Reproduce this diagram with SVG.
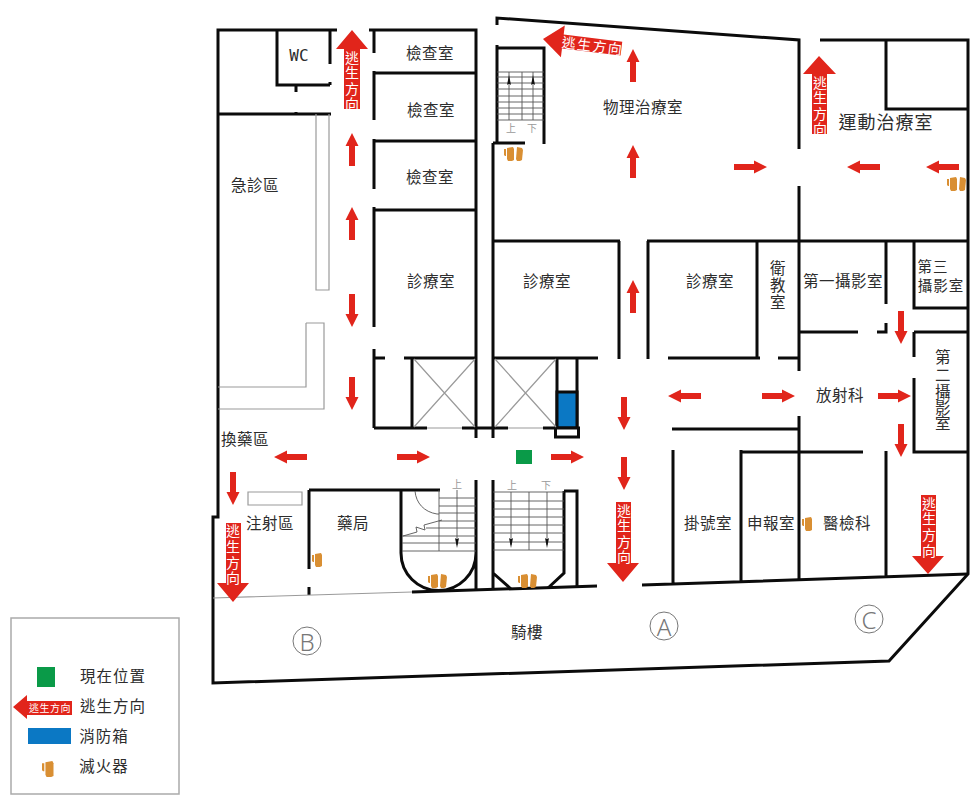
<svg xmlns="http://www.w3.org/2000/svg" width="980" height="800" viewBox="0 0 980 800">
<style>
text{font-family:"Noto Sans CJK TC","Noto Sans CJK SC","Liberation Sans",sans-serif;text-anchor:middle;dominant-baseline:central}
.w{fill:none;stroke:#0b0b0b;stroke-width:3}
.g{fill:none;stroke:#9a9a9a;stroke-width:1.2}
.s{fill:none;stroke:#555;stroke-width:.9}
.r{fill:#e1251b}
.o{fill:#d98f33}
.l{fill:#2d2d2d;font-size:15.500px;letter-spacing:.5px}
.b{fill:#fff;font-size:14px}
.u{fill:#999;font-size:10px}
.c{fill:none;stroke:#777;stroke-width:1}
.ct{fill:#777;font-size:24px;font-family:"Noto Sans",sans-serif;font-weight:300}
</style>
<defs>
<path id="a" class="r" d="M0,-3 H20 V-6.5 L33,0 L20,6.5 V3 H0 Z"/>
<path id="dn" fill="#111" d="M-.6,0 H.6 L2,-1 L0,9 L-2,-1 Z"/>
<g id="e"><path class="o" d="M3,1 L9,0 L10,2 L10,13 L8,14 L4,14 L3,12 Z"/><path class="o" d="M0,2 H2 V9 H1 L0,8 Z"/></g>
<g id="ee"><use href="#e"/><path class="o" d="M13,0 L18,1 L19,3 L18,13 L16,14 L13,14 L12,12 Z"/></g>
</defs>

<g id="walls">
<path class="w" d="M337,30 H218 V517 H213 V683 L889,661 L968,574 V40 H820"/>
<path class="w" d="M369,30 H476 V438 M497,25 V18 L799,40 V149 M799,186 V371 M799,416 V581"/>
<path class="w" d="M277,30 V85 H330 M330,82 V85 M330,30 V64 M296,85 V92 M296,112 V114 M218,114 H331"/>
<path class="w" d="M886,40 V109 H968 M647,241 H968 M493,241 H620"/>
<path class="w" d="M374,30 V53 M374,71 V120 M374,139 V189 M374,207 V327 M374,349 V428 M374,73 H476 M374,141 H476 M374,210 H476 M374,358 H385 M404,358 H476 M412,358 V428 M374,428 H427 M462,428 H508 M543,428 H557"/>
<path class="w" d="M497,45 V143 M497,48 H544 V144 M493,143 H525 M493,143 V438 M493,358 H598 M557,358 V437 M577,358 V428 M619,241 V359 M648,241 V359 M668,358 H760 M757,241 V358 M778,358 H799"/>
<rect x="557" y="392" width="20" height="36" fill="#0b78c4" stroke="#0b0b0b" stroke-width="3"/>
<rect x="555.500" y="428" width="23" height="9" fill="#fff" stroke="#0b0b0b" stroke-width="3"/>
<path class="w" d="M799,332 H858 M877,332 H886 V323 M886,241 V304 M914,241 V308 H968 M914,332 H968 M914,332 V357 M914,378 V452 H968 M672,429 H799 M741,452 H863 M886,451 V577 M741,450 V582 M673,450 V584 M642,585 L968,574 M412,592 L597,586"/>
<path class="w" d="M309,490 H440 M309,490 V569 M309,587 V595 M401,490 V553 A37.500,37.500 0 0 0 476,553 M476,480 V591 M493,480 V590 M493,573 L511,589 M564,491 H577 V587 M564,491 V573 L548,588"/>
</g>

<g id="thin-lines">
<path class="g" d="M316,114 V290 H329 V114 M306,323 H324 V409 H218 M306,323 V387 H218 M213,598 L412,592 M427,428 H462 M508,428 H543 M248,492 H302 V505 H248 Z"/>
<path class="g" d="M414,359 L475,427 M475,359 L414,427 M495,359 L556,427 M556,359 L495,427"/>
<path class="s" d="M497,72 H544 M497,77 H544 M497,83 H544 M497,89 H544 M497,96 H544 M497,102 H544 M497,108 H544 M497,114 H544 M497,120 H544 M509,72 V120 M522,72 V120 M533,72 V120"/>
<path class="s" d="M439,498 H476 M439,506 H476 M439,513 H476 M439,521 H476 M426,528 H476 M402,536 H476 M402,543 H476 M402,551 H476 M439,490 V551 M457,490 V545 M415,491 C416,503 424,512 437,514 H439 M403,536 L417,532 L416,527 L425,530 L424,525 L442,520"/>
<path class="s" d="M493,492 H564 M493,501 H564 M493,509 H564 M493,517 H564 M493,525 H564 M493,533 H564 M493,542 H564 M493,550 H564 M511,492 V545 M529,492 V550 M547,492 V545"/>
<use href="#dn" transform="translate(457,539)"/>
<use href="#dn" transform="translate(511,539)"/>
<use href="#dn" transform="translate(547,539)"/>
<use href="#dn" transform="translate(509,84) rotate(180)"/>
<use href="#dn" transform="translate(533,84) rotate(180)"/>
</g>

<g id="arrows">
<use href="#a" transform="translate(352,166) rotate(-90)"/>
<use href="#a" transform="translate(352,240) rotate(-90)"/>
<use href="#a" transform="translate(352,294) rotate(90)"/>
<use href="#a" transform="translate(352,377) rotate(90)"/>
<use href="#a" transform="translate(307,457) rotate(180)"/>
<use href="#a" transform="translate(397,457)"/>
<use href="#a" transform="translate(551,457)"/>
<use href="#a" transform="translate(624,397) rotate(90)"/>
<use href="#a" transform="translate(624,457) rotate(90)"/>
<use href="#a" transform="translate(633,313) rotate(-90)"/>
<use href="#a" transform="translate(633,82) rotate(-90)"/>
<use href="#a" transform="translate(633,178) rotate(-90)"/>
<use href="#a" transform="translate(701,396) rotate(180)"/>
<use href="#a" transform="translate(762,396)"/>
<use href="#a" transform="translate(878,396)"/>
<use href="#a" transform="translate(901,311) rotate(90)"/>
<use href="#a" transform="translate(901,424) rotate(90)"/>
<use href="#a" transform="translate(734,167)"/>
<use href="#a" transform="translate(880,167) rotate(180)"/>
<use href="#a" transform="translate(959,167) rotate(180)"/>
<use href="#a" transform="translate(233,472) rotate(90)"/>
<path class="r" d="M352,30 L368,49 H360 V109 H344 V49 H336 Z"/>
<text class="b" x="352 352 352 352" y="57 72 88 103">逃生方向</text>
<path class="r" d="M819,56 L836,74 H827 V134 H812 V74 H803 Z"/>
<text class="b" x="820 820 820 820" y="82 97 113 128">逃生方向</text>
<path class="r" d="M233,602 L249,583 H241 V523 H226 V583 H217 Z"/>
<text class="b" x="233 233 233 233" y="530 546 562 577">逃生方向</text>
<path class="r" d="M623,582 L639,563 H631 V502 H616 V563 H607 Z"/>
<text class="b" x="624 624 624 624" y="510 525 541 556">逃生方向</text>
<path class="r" d="M928,574 L944,556 H936 V495 H921 V556 H912 Z"/>
<text class="b" x="929 929 929 929" y="503 518 534 550">逃生方向</text>
<g transform="translate(543,39) rotate(7)">
<path class="r" d="M0,0 L20,-16 V-7 H79 V7 H20 V16 Z"/>
<text class="b" x="50" y="0" letter-spacing="1.500">逃生方向</text>
</g>
</g>

<g id="extinguishers">
<use href="#ee" transform="translate(504,147)"/>
<use href="#ee" transform="translate(947,177)"/>
<use href="#e" transform="translate(312,553)"/>
<use href="#ee" transform="translate(428,574)"/>
<use href="#ee" transform="translate(518,574)"/>
<use href="#e" transform="translate(802,517)"/>
</g>

<g id="labels">
<text class="l" x="299" y="55.500" style="font-family:'DejaVu Sans Mono',monospace;font-size:16px;letter-spacing:0">WC</text>
<g transform="translate(0,-1.500)">
<text class="l" x="430" y="53">檢查室</text>
<text class="l" x="431" y="110">檢查室</text>
<text class="l" x="430" y="177">檢查室</text>
<text class="l" x="255" y="185">急診區</text>
<text class="l" x="431" y="281">診療室</text>
<text class="l" x="547" y="281">診療室</text>
<text class="l" x="710" y="281">診療室</text>
<text class="l" x="643" y="107">物理治療室</text>
<text class="l" x="886" y="122" style="font-size:18px;letter-spacing:1px">運動治療室</text>
<text class="l" x="778 778 778" y="268 285 302">衛教室</text>
<text class="l" x="843" y="281">第一攝影室</text>
<text class="l" style="font-size:14.500px;letter-spacing:1px"><tspan x="933" y="266.500">第三</tspan><tspan x="941" y="285">攝影室</tspan></text>
<text class="l" x="943 943 943 943 943" y="357 375 392 408 423">第二攝影室</text>
<text class="l" x="840" y="395">放射科</text>
<text class="l" x="245" y="439">換藥區</text>
<text class="l" x="270" y="523">注射區</text>
<text class="l" x="353" y="523">藥局</text>
<text class="l" x="527" y="632">騎樓</text>
<text class="l" x="708" y="523">掛號室</text>
<text class="l" x="771" y="523">申報室</text>
<text class="l" x="847" y="523">醫檢科</text>
</g>
<text class="u" x="511" y="127">上</text>
<text class="u" x="532" y="127">下</text>
<text class="u" x="457" y="483">上</text>
<text class="u" x="512" y="484">上</text>
<text class="u" x="546" y="484">下</text>
<circle class="c" cx="307" cy="641" r="14"/>
<text class="ct" x="307" y="641">B</text>
<circle class="c" cx="664" cy="626" r="14"/>
<text class="ct" x="664" y="626">A</text>
<circle class="c" cx="869" cy="619" r="14"/>
<text class="ct" x="869" y="619">C</text>
<rect id="here" x="516" y="450" width="16" height="14" fill="#0a9a48"/>
</g>

<g id="legend">
<rect x="11" y="618" width="168" height="176" fill="none" stroke="#aaa" stroke-width="1.500"/>
<rect x="37" y="667" width="18" height="20" fill="#0a9a48"/>
<path class="r" d="M13,707 L27,695 V701 H72 V715 H27 V719 Z"/>
<text class="b" x="50" y="707" style="font-size:10px;letter-spacing:.5px">逃生方向</text>
<rect x="28" y="728" width="43" height="16" fill="#0b78c4"/>
<use href="#e" transform="translate(42,761) scale(1.150)"/>
<text class="l" x="113" y="675" style="letter-spacing:1px">現在位置</text>
<text class="l" x="113" y="705" style="letter-spacing:1px">逃生方向</text>
<text class="l" x="104" y="735" style="letter-spacing:1px">消防箱</text>
<text class="l" x="104" y="765" style="letter-spacing:1px">滅火器</text>
</g>
</svg>
